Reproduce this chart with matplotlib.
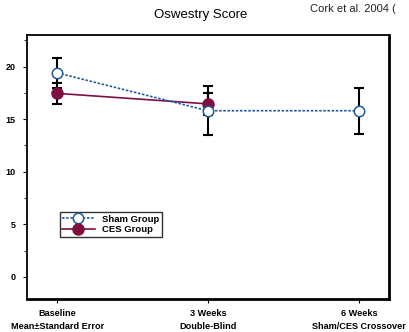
import matplotlib
matplotlib.use('Agg')
import matplotlib.pyplot as plt
from matplotlib.ticker import MultipleLocator

plt.rcParams['font.family'] = ['Liberation Sans', 'DejaVu Sans']

# データ
timepoints = ['Baseline\nMean±Standard Error', '3 Weeks\nDouble-Blind', '6 Weeks\nSham/CES Crossover']
sham_mean = [19.4, 15.8, 15.8]
sham_err = [1.4, 2.35, 2.2]
ces_mean = [17.45, 16.45]
ces_err = [1.0, 1.05]

fig = plt.figure(figsize=(4.09, 3.32), dpi=100)
ax = fig.add_axes([0.066, 0.0994, 0.885, 0.7952])

x_sham = list(range(len(sham_mean)))
x_ces = list(range(len(ces_mean)))

sham_color = '#1f5a9c'
ces_color = '#7d1040'

ax.errorbar(x_ces, ces_mean, yerr=ces_err, fmt='none', ecolor='black',
            elinewidth=1.5, capsize=3.7, capthick=1.5, zorder=2)
ax.errorbar(x_sham, sham_mean, yerr=sham_err, fmt='none', ecolor='black',
            elinewidth=1.5, capsize=3.7, capthick=1.5, zorder=2)

ax.plot(x_ces, ces_mean, color=ces_color, linestyle='-', linewidth=1.2,
        marker='o', markersize=8, markerfacecolor=ces_color,
        markeredgecolor=ces_color, label='CES Group', zorder=3)
ax.plot(x_sham, sham_mean, color=sham_color, linestyle=(0, (1.5, 1)), linewidth=1.2,
        marker='o', markersize=7.5, markerfacecolor='white',
        markeredgecolor=sham_color, markeredgewidth=1.1, label='Sham Group', zorder=4)

ax.set_xlim(-0.2, 2.2)
ax.set_ylim(-2.1, 23)
ax.set_xticks(x_sham)
ax.set_xticklabels(timepoints, fontsize=6.6, fontweight='bold', linespacing=1.65)
ax.yaxis.set_major_locator(MultipleLocator(5))
ax.yaxis.set_minor_locator(MultipleLocator(2.5))
ax.tick_params(axis='y', labelsize=6.5, length=3, width=0.8, pad=5)
ax.tick_params(axis='y', which='minor', length=2, width=0.6)
for lbl in ax.get_yticklabels():
    lbl.set_fontweight('bold')
ax.tick_params(axis='x', length=3, width=0.8, pad=4)

for side in ['top', 'left']:
    ax.spines[side].set_linewidth(1.3)
for side in ['bottom', 'right']:
    ax.spines[side].set_linewidth(2.0)

handles, labels = ax.get_legend_handles_labels()
leg = ax.legend(handles[::-1], labels[::-1], loc='lower left',
                bbox_to_anchor=(0.09, 0.235), fontsize=6.8, frameon=True,
                fancybox=False, edgecolor='black', borderpad=0.3,
                handlelength=3.4, labelspacing=0.15, borderaxespad=0)
leg.get_frame().set_linewidth(1.0)
for t in leg.get_texts():
    t.set_fontweight('bold')

fig.text(0.49, 0.955, 'Oswestry Score', ha='center', va='center', fontsize=9.5)
fig.text(0.757, 0.972, 'Cork et al. 2004 (', ha='left', va='center', fontsize=8,
         color='#222222')

fig.savefig('out.png', dpi=100)
